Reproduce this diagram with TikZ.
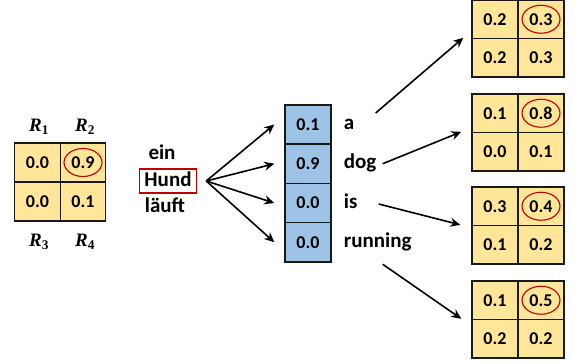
\documentclass[tikz,border=0pt]{standalone}
\usepackage{fontspec}
\setmainfont{Carlito}
\newfontfamily\rfont{Liberation Serif}
\usetikzlibrary{positioning,arrows.meta}
\definecolor{cellyellow}{HTML}{FFE699}
\definecolor{cellblue}{HTML}{9DC3E6}
\definecolor{pickred}{HTML}{C00000}
\tikzset{
  cell/.style={draw=black!90, line width=1.4pt, fill=cellyellow,
    minimum width=46pt, minimum height=38.5pt, inner sep=0pt,
    font=\fontsize{18}{18}\selectfont\bfseries},
  bcell/.style={cell, fill=cellblue, minimum height=39.25pt},
  word/.style={font=\fontsize{21}{21}\selectfont\bfseries, inner sep=0pt,
    text height=14pt, text depth=4pt},
  rlab/.style={font=\fontsize{19}{19}\selectfont\rfont\bfseries},
  pick/.style={draw=pickred, line width=1.1pt},
  arr/.style={line width=1.6pt, -{Stealth[length=10pt,width=9pt]}},
}
\begin{document}
\begin{tikzpicture}[x=1pt,y=-1pt]
    \useasboundingbox (0,0) rectangle (574,364);
    % left grid
    \node[cell, minimum width=45.5pt, minimum height=39pt] (l1) at (37.5,162.5) {0.0};
    \node[cell, minimum width=45.5pt, minimum height=39pt] (l2) at (83,162.5) {0.9};
    \node[cell, minimum width=45.5pt, minimum height=39pt] (l3) at (37.5,201.5) {0.0};
    \node[cell, minimum width=45.5pt, minimum height=39pt] (l4) at (83,201.5) {0.1};
    \draw[pick] (l2.center) ellipse [x radius=19pt, y radius=14pt];
    \node[rlab] (r1) at (39,127) {\itshape R\textsubscript{\upshape 1}};
    \node[rlab] (r2) at (85,127) {\itshape R\textsubscript{\upshape 2}};
    \node[rlab] (r3) at (39,242) {\itshape R\textsubscript{\upshape 3}};
    \node[rlab] (r4) at (85,242) {\itshape R\textsubscript{\upshape 4}};
    % source words
    \node[word] (ein) at (162,154) {ein};
    \node[word, draw=pickred, line width=1.4pt, inner xsep=5pt, inner ysep=3pt] (hund) at (168,181) {Hund};
    \node[word] (lauft) at (165,207) {läuft};
    % target column
    \node[bcell] (b1) at (308,124.5) {0.1};
    \node[bcell] (b2) at (308,163.75) {0.9};
    \node[bcell] (b3) at (308,203) {0.0};
    \node[bcell] (b4) at (308,242.25) {0.0};
    \node[word, right=12pt of b1] (wa) {a};
    \node[word, right=12pt of b2] (wd) {dog};
    \node[word, right=12pt of b3] (wi) {is};
    \node[word, right=12pt of b4] (wr) {running};
    \coordinate (fan) at ([xshift=9pt]hund.east);
    \foreach \i in {1,...,4} {
        \draw[arr] (fan) -- ([xshift=-10pt]b\i.west);
    }
    % right grids
    \foreach \n/\yy/\va/\vb/\vc/\vd in {1/0/0.2/0.3/0.2/0.3, 2/94/0.1/0.8/0.0/0.1,
                                       3/187/0.3/0.4/0.1/0.2, 4/281/0.1/0.5/0.2/0.2} {
        \node[cell] (g\n a) at (495,\yy+19.25) {\va};
        \node[cell] (g\n b) at (541,\yy+19.25) {\vb};
        \node[cell] (g\n c) at (495,\yy+57.75) {\vc};
        \node[cell] (g\n d) at (541,\yy+57.75) {\vd};
        \draw[pick] (g\n b.center) ellipse [x radius=19pt, y radius=14pt];
    }
    \draw[arr] ([shift={(32pt,11.5pt)}]wa.west) -- ([xshift=-8pt]g1c.north west);
    \draw[arr] ([shift={(39pt,0pt)}]wd.west) -- ([xshift=-10pt]g2c.north west);
    \draw[arr] ([shift={(35pt,-1pt)}]wi.west) -- ([xshift=-11pt]g3c.north west);
    \draw[arr] ([shift={(39pt,-22pt)}]wr.west) -- ([xshift=-10pt]g4c.north west);
\end{tikzpicture}
\end{document}
